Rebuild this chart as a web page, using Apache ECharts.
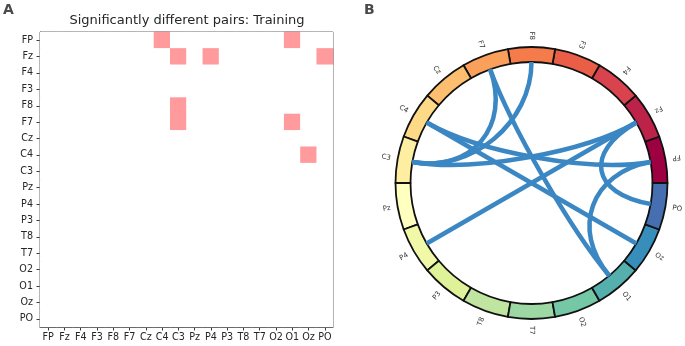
<!DOCTYPE html>
<html>
<head>
<meta charset="utf-8">
<script src="https://cdn.jsdelivr.net/npm/echarts@6/dist/echarts.min.js"></script>
<style>
  html, body { margin: 0; padding: 0; background: #ffffff; }
  #main { width: 685px; height: 346px; }
</style>
</head>
<body>
<div id="main"></div>
<script>
// EEG channels, in matrix order and in order around the ring
const channels = ['FP', 'Fz', 'F4', 'F3', 'F8', 'F7', 'Cz', 'C4', 'C3', 'Pz', 'P4', 'P3', 'T8', 'T7', 'O2', 'O1', 'Oz', 'PO'];

// Channel pairs that differ significantly (row channel, column channel)
const sigPairs = [
  ['FP', 'C4'], ['FP', 'O1'],
  ['Fz', 'C3'], ['Fz', 'P4'], ['Fz', 'PO'],
  ['F8', 'C3'],
  ['F7', 'C3'], ['F7', 'O1'],
  ['C4', 'Oz']
];

// Ring segment colours (Spectral ramp)
const nodeColors = [
  '#9e0142', '#bd2349', '#d8434e', '#ea5d47', '#f67b4a', '#fba05a',
  '#fdbf6f', '#feda86', '#feeea2', '#ffffbf', '#f1f9a9', '#dff299',
  '#bfe5a0', '#9cd7a4', '#75c8a5', '#55afad', '#388eba', '#466fb1'
];

const matrixTitle = 'Significantly different pairs: Training';

// ---- derived data ----
const isSig = (r, c) => sigPairs.some(p => p[0] === channels[r] && p[1] === channels[c]);
const heatData = [];
for (let r = 0; r < channels.length; r++) {
  for (let c = 0; c < channels.length; c++) {
    heatData.push([c, r, isSig(r, c) ? 1 : 0]);
  }
}
const linkData = sigPairs.map(p => [channels.indexOf(p[0]), channels.indexOf(p[1])]);

// Circle geometry (pixels) and its radial scale in polar units
const CX = 531.5, CY = 183;
const R_IN_PX = 121, R_OUT_PX = 136;
const R_IN = 10;                          // link anchor radius (polar units)
const R_OUT = R_IN * R_OUT_PX / R_IN_PX;  // outer edge of ring
const LABEL_R = R_IN * 143 / R_IN_PX;     // where labels start
const STEP = 360 / channels.length;
const labelData = channels.map((_, i) => [LABEL_R, (i + 0.5) * STEP]);

const chart = echarts.init(document.getElementById('main'), null, { renderer: 'canvas' });

const axisColor = '#3a3a3a';
const font = 'DejaVu Sans';

chart.setOption({
  animation: false,
  backgroundColor: '#ffffff',
  grid: {
    left: 40, top: 32, width: 293, height: 295,
    show: true, borderColor: axisColor, borderWidth: 1, backgroundColor: 'transparent'
  },
  xAxis: {
    type: 'category', data: channels,
    axisLine: { show: true, lineStyle: { color: axisColor, width: 1 } },
    axisTick: { show: true, alignWithLabel: true, length: 3.5, lineStyle: { color: axisColor } },
    axisLabel: { interval: 0, fontSize: 9.6, fontFamily: font, color: '#262626', margin: 5 },
    splitLine: { show: false }
  },
  yAxis: {
    type: 'category', data: channels, inverse: true,
    axisLine: { show: true, lineStyle: { color: axisColor, width: 1 } },
    axisTick: { show: true, alignWithLabel: true, length: 3.5, lineStyle: { color: axisColor } },
    axisLabel: { interval: 0, fontSize: 9.6, fontFamily: font, color: '#262626', margin: 7 },
    splitLine: { show: false }
  },
  visualMap: {
    show: false, type: 'continuous', min: 0, max: 1, seriesIndex: 0,
    inRange: { color: ['#ffffff', '#ff9b9d'] }
  },
  polar: { center: [CX, CY], radius: R_OUT_PX },
  angleAxis: { type: 'value', min: 0, max: 360, startAngle: 0, clockwise: false, show: false },
  radiusAxis: { type: 'value', min: 0, max: R_OUT, show: false },
  graphic: [
    { type: 'text', x: 3, y: 3, style: { text: 'A', fontSize: 14, fontWeight: 'bold', fontFamily: font, fill: '#4a4a4a' } },
    { type: 'text', x: 364, y: 3, style: { text: 'B', fontSize: 14, fontWeight: 'bold', fontFamily: font, fill: '#4a4a4a' } },
    { type: 'text', x: 187, y: 21, style: { text: matrixTitle, fontSize: 13, fontFamily: font, fill: '#262626', align: 'center', verticalAlign: 'middle' } }
  ],
  series: [
    {
      type: 'heatmap', xAxisIndex: 0, yAxisIndex: 0, data: heatData, silent: true,
      itemStyle: { borderWidth: 0 }, emphasis: { disabled: true }
    },
    {
      // coloured ring of channel segments
      type: 'pie', center: [CX, CY], radius: [R_IN_PX, R_OUT_PX],
      startAngle: 0, clockwise: false, silent: true,
      label: { show: false }, labelLine: { show: false },
      itemStyle: { borderColor: '#111111', borderWidth: 1.8 },
      emphasis: { disabled: true },
      data: channels.map((name, i) => ({ name, value: 1, itemStyle: { color: nodeColors[i] } }))
    },
    {
      // connections drawn as cubic curves through the centre region
      type: 'custom', coordinateSystem: 'polar', silent: true, z: 3,
      data: linkData,
      renderItem(params, api) {
        const t0 = (api.value(0) + 0.5) * STEP;
        const t1 = (api.value(1) + 0.5) * STEP;
        const p0 = api.coord([R_IN, t0]);
        const c0 = api.coord([R_IN / 2, t0]);
        const c1 = api.coord([R_IN / 2, t1]);
        const p1 = api.coord([R_IN, t1]);
        return {
          type: 'bezierCurve',
          shape: { x1: p0[0], y1: p0[1], cpx1: c0[0], cpy1: c0[1], cpx2: c1[0], cpy2: c1[1], x2: p1[0], y2: p1[1] },
          style: { stroke: '#3a87c3', lineWidth: 4.5, fill: 'none' }
        };
      }
    },
    {
      // radial channel labels
      type: 'custom', coordinateSystem: 'polar', silent: true,
      data: labelData,
      renderItem(params, api) {
        const ang = api.value(1);
        const p = api.coord([api.value(0), ang]);
        const flip = ang < 270;
        const rot = flip ? ang + 180 : ang;
        return {
          type: 'text', x: p[0], y: p[1], rotation: rot * Math.PI / 180,
          style: {
            text: channels[params.dataIndex], fontSize: 7, fontFamily: font, fill: '#333333',
            align: flip ? 'right' : 'left', verticalAlign: 'middle'
          }
        };
      }
    }
  ]
});
</script>
</body>
</html>
